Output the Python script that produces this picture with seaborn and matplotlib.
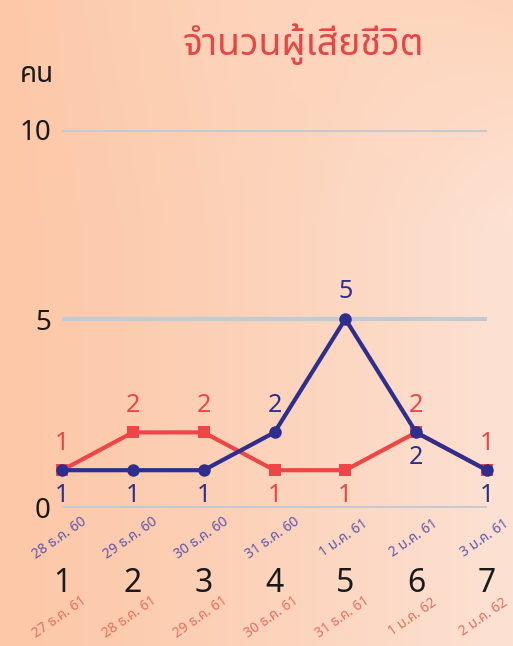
import numpy as np
import pandas as pd
import matplotlib.pyplot as plt
import seaborn as sns
from matplotlib.colors import to_rgb

days = [1, 2, 3, 4, 5, 6, 7]
deaths_60 = [1, 1, 1, 2, 5, 2, 1]
deaths_61 = [1, 2, 2, 1, 1, 2, 1]
dates_60 = ['28 ธ.ค. 60', '29 ธ.ค. 60', '30 ธ.ค. 60', '31 ธ.ค. 60',
            '1 ม.ค. 61', '2 ม.ค. 61', '3 ม.ค. 61']
dates_61 = ['27 ธ.ค. 61', '28 ธ.ค. 61', '29 ธ.ค. 61', '30 ธ.ค. 61',
            '31 ธ.ค. 61', '1 ม.ค. 62', '2 ม.ค. 62']
yticks = [0, 5, 10]
title = 'จำนวนผู้เสียชีวิต'
unit = 'คน'

sns.set_theme(style='white')
thai = ['Noto Sans Thai', 'Noto Sans Thai Looped', 'Loma', 'Garuda', 'DejaVu Sans']
plt.rcParams['font.family'] = thai

blue = '#2d2e8f'
red = '#ee4646'
blue_lt = '#5f57ad'
red_lt = '#e6705e'

df = pd.DataFrame({
    'day': days * 2,
    'deaths': deaths_61 + deaths_60,
    'year': ['61'] * len(days) + ['60'] * len(days),
})

fig = plt.figure(figsize=(5.13, 6.46), dpi=100)

# peach background, lighter towards the right
bg = fig.add_axes([0, 0, 1, 1], zorder=-1)
xx, yy = np.meshgrid(np.linspace(0, 1, 200), np.linspace(0, 1, 200))
c_left = np.array(to_rgb('#fcc8a8'))
c_right = np.array(to_rgb('#fde2d4'))
c_tr = np.array(to_rgb('#fed4ba'))
w = (xx ** 1.3)[..., None]
img = c_left * (1 - w) + c_right * w
top = (np.clip(0.35 - yy, 0, None) / 0.35 * xx)[..., None]
img = img * (1 - top) + c_tr * top
bg.imshow(img, aspect='auto', extent=[0, 1, 0, 1], origin='upper')
bg.axis('off')

ax = fig.add_axes([62 / 513, 138 / 646, 425 / 513, 378 / 646])
ax.set_facecolor('none')

sns.lineplot(data=df, x='day', y='deaths', hue='year', style='year',
             hue_order=['61', '60'], palette={'61': red, '60': blue},
             markers={'61': 's', '60': 'o'}, dashes=False, linewidth=3,
             markersize=9, markeredgewidth=0, legend=False, ax=ax, zorder=3)
for line in ax.lines:
    line.set_clip_on(False)

# value labels: the higher series goes above, the other below
for d, b, r in zip(days, deaths_60, deaths_61):
    b_up = b > r
    ax.annotate(str(b), (d, b), xytext=(0, 27 if b_up else -25),
                textcoords='offset pixels', ha='center', va='center',
                color=blue, fontsize=18)
    ax.annotate(str(r), (d, r), xytext=(0, -25 if b_up else 27),
                textcoords='offset pixels', ha='center', va='center',
                color=red, fontsize=18)

# day numbers and dates under the axis
for d, d60, d61 in zip(days, dates_60, dates_61):
    ax.annotate(str(d), (d, 0), xycoords=('data', 'axes fraction'),
                xytext=(0, -75), textcoords='offset pixels', ha='center',
                va='center', fontsize=23, color='#1a1a1a', annotation_clip=False)
    ax.annotate(d60, (d, 0), xycoords=('data', 'axes fraction'),
                xytext=(-2, -30), textcoords='offset pixels', ha='center',
                va='center', rotation=35, fontsize=10, color=blue_lt,
                annotation_clip=False)
    ax.annotate(d61, (d, 0), xycoords=('data', 'axes fraction'),
                xytext=(-3, -109), textcoords='offset pixels', ha='center',
                va='center', rotation=35, fontsize=10, color=red_lt,
                annotation_clip=False)

ax.set_xlim(1, 7)
ax.set_ylim(0, 10)
ax.set_xticks([])
ax.set_yticks(yticks)
ax.set_yticklabels([str(t) for t in yticks], fontsize=20, color='#1a1a1a')
ax.tick_params(axis='y', length=0, pad=8)
ax.set_xlabel('')
ax.set_ylabel('')
for t in yticks:
    ax.axhline(t, color='#c5c9d0', linewidth=3, zorder=1)
sns.despine(ax=ax, left=True, bottom=True)

fig.text(20 / 513, 1 - 75 / 646, unit, fontsize=20, color='#1a1a1a',
         va='center', ha='left')
fig.text(303 / 513, 1 - 44 / 646, title, fontsize=27, color='#e84545',
         va='center', ha='center')

fig.savefig('out.png', dpi=100)
